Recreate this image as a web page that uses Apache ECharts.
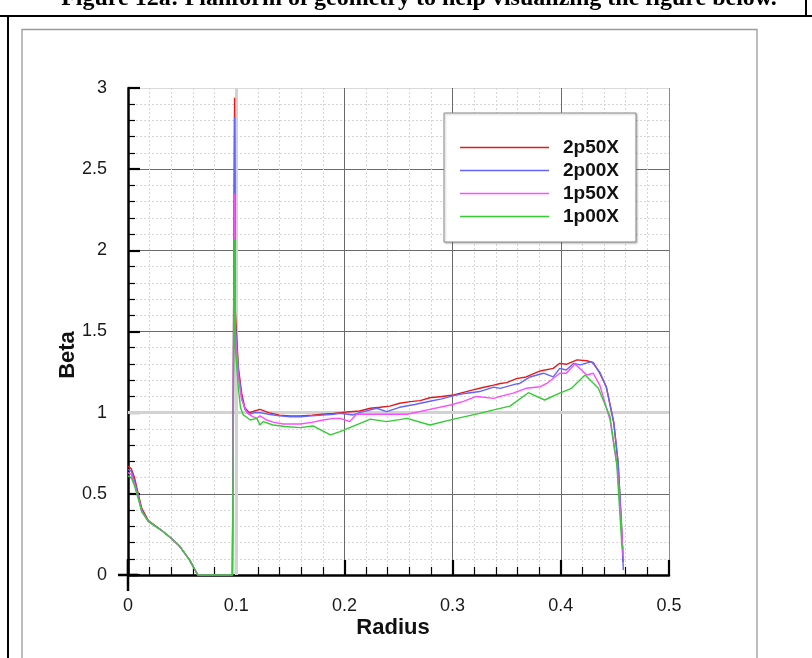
<!DOCTYPE html>
<html>
<head>
<meta charset="utf-8">
<script src="https://cdn.jsdelivr.net/npm/echarts@6/dist/echarts.min.js"></script>
<style>
  html, body { margin: 0; padding: 0; background: #fff; }
  #chart { width: 812px; height: 658px; }
</style>
</head>
<body>
<div id="chart"></div>
<script>
// Tick values for both axes
const radiusTicks = [0, 0.1, 0.2, 0.3, 0.4, 0.5];
const betaTicks = [0, 0.5, 1, 1.5, 2, 2.5, 3];

const seriesNames = ['2p50X', '2p00X', '1p50X', '1p00X'];

// Beta vs Radius, one [radius, beta] list per case
const beta2p50X = [
  [0, 0.67], [0.003, 0.655], [0.006, 0.6], [0.0095, 0.5], [0.0127, 0.41], [0.0188, 0.335],
  [0.03, 0.28], [0.04, 0.226], [0.048, 0.175], [0.057, 0.092], [0.0645, 0], [0.0965, 0],
  [0.0985, 2.94], [0.0992, 1.62], [0.102, 1.28], [0.105, 1.12], [0.108, 1.03], [0.112, 1.0],
  [0.117, 1.01], [0.122, 1.02], [0.13, 1.0], [0.14, 0.985], [0.15, 0.98], [0.159, 0.98],
  [0.17, 0.985], [0.18, 0.99], [0.19, 0.995], [0.196, 1.0], [0.205, 1.006], [0.214, 1.01],
  [0.224, 1.027], [0.233, 1.033], [0.242, 1.04], [0.251, 1.058], [0.261, 1.068], [0.27, 1.074],
  [0.279, 1.092], [0.29, 1.1], [0.301, 1.109], [0.31, 1.125], [0.319, 1.14], [0.328, 1.155],
  [0.338, 1.17], [0.344, 1.18], [0.35, 1.185], [0.359, 1.21], [0.368, 1.22], [0.375, 1.24],
  [0.381, 1.257], [0.393, 1.273], [0.399, 1.304], [0.405, 1.298], [0.415, 1.325], [0.424, 1.32],
  [0.43, 1.308], [0.436, 1.243], [0.442, 1.16], [0.449, 0.935], [0.453, 0.688], [0.456, 0.318],
  [0.4575, 0.08]
];
const beta2p00X = [
  [0, 0.65], [0.003, 0.64], [0.006, 0.58], [0.0095, 0.49], [0.0127, 0.40], [0.0188, 0.33],
  [0.03, 0.28], [0.04, 0.226], [0.048, 0.175], [0.057, 0.092], [0.0645, 0], [0.0965, 0],
  [0.0985, 2.82], [0.0992, 1.55], [0.102, 1.26], [0.105, 1.1], [0.108, 1.02], [0.112, 0.99],
  [0.117, 1.0], [0.122, 1.0], [0.13, 0.99], [0.14, 0.98], [0.15, 0.975], [0.159, 0.975],
  [0.17, 0.98], [0.18, 0.985], [0.19, 0.99], [0.196, 0.996], [0.208, 0.986], [0.214, 1.0],
  [0.23, 1.027], [0.239, 1.006], [0.251, 1.033], [0.265, 1.05], [0.279, 1.07], [0.29, 1.085],
  [0.301, 1.105], [0.313, 1.12], [0.325, 1.13], [0.338, 1.157], [0.344, 1.15], [0.359, 1.177],
  [0.362, 1.18], [0.3715, 1.22], [0.384, 1.243], [0.393, 1.22], [0.399, 1.273], [0.405, 1.263],
  [0.412, 1.304], [0.418, 1.294], [0.4285, 1.314], [0.436, 1.25], [0.442, 1.16], [0.449, 0.94],
  [0.453, 0.69], [0.456, 0.32], [0.4578, 0.03]
];
const beta1p50X = [
  [0, 0.63], [0.003, 0.62], [0.006, 0.56], [0.0095, 0.48], [0.0127, 0.39], [0.0188, 0.33],
  [0.03, 0.28], [0.04, 0.226], [0.048, 0.175], [0.057, 0.092], [0.0645, 0], [0.0965, 0],
  [0.0985, 2.35], [0.0992, 1.5], [0.102, 1.22], [0.105, 1.08], [0.11, 1.0], [0.114, 0.98],
  [0.119, 0.965], [0.122, 0.98], [0.128, 0.955], [0.135, 0.94], [0.1436, 0.93], [0.159, 0.93],
  [0.17, 0.94], [0.18, 0.955], [0.19, 0.965], [0.196, 0.965], [0.205, 0.945], [0.211, 0.99],
  [0.227, 0.99], [0.258, 0.99], [0.279, 1.02], [0.298, 1.047], [0.31, 1.07], [0.322, 1.1],
  [0.338, 1.088], [0.344, 1.1], [0.356, 1.12], [0.368, 1.15], [0.381, 1.16], [0.387, 1.18],
  [0.399, 1.243], [0.405, 1.243], [0.413, 1.3], [0.424, 1.232], [0.43, 1.243], [0.436, 1.17],
  [0.4455, 0.955], [0.4525, 0.645], [0.4578, 0.113]
];
const beta1p00X = [
  [0, 0.61], [0.003, 0.6], [0.006, 0.55], [0.0095, 0.47], [0.0127, 0.39], [0.0188, 0.33],
  [0.03, 0.28], [0.04, 0.226], [0.048, 0.175], [0.057, 0.092], [0.0645, 0], [0.0965, 0],
  [0.0985, 2.07], [0.0992, 1.4], [0.102, 1.15], [0.104, 1.03], [0.1066, 0.986], [0.11, 0.97],
  [0.113, 0.955], [0.119, 0.965], [0.122, 0.924], [0.125, 0.945], [0.134, 0.924], [0.145, 0.915],
  [0.159, 0.908], [0.171, 0.918], [0.187, 0.863], [0.196, 0.883], [0.205, 0.908], [0.224, 0.96],
  [0.239, 0.945], [0.258, 0.965], [0.279, 0.924], [0.301, 0.96], [0.325, 0.996], [0.338, 1.017],
  [0.353, 1.04], [0.37, 1.123], [0.385, 1.078], [0.399, 1.12], [0.41, 1.15], [0.4224, 1.232],
  [0.4347, 1.15], [0.4455, 0.975], [0.4517, 0.688], [0.4563, 0.195], [0.4575, 0.16]
];

const seriesData = [beta2p50X, beta2p00X, beta1p50X, beta1p00X];
const seriesColors = ['#e31a1c', '#6464ff', '#ff4cff', '#33cc33'];

const sans = '"Liberation Sans", Arial, sans-serif';
const majorGrid = '#6a6a6a';

const chart = echarts.init(document.getElementById('chart'), null, { renderer: 'canvas' });

const lineSeries = seriesNames.map((name, i) => ({
  name: name,
  type: 'line',
  data: seriesData[i],
  symbol: 'none',
  color: seriesColors[i],
  lineStyle: { color: seriesColors[i], width: 1.4 },
  z: 2,
  animation: false
}));

chart.setOption({
  animation: false,
  backgroundColor: '#ffffff',
  grid: { left: 128, right: 143, top: 88, bottom: 83 },
  legend: {
    data: seriesNames,
    orient: 'vertical',
    left: 444,
    top: 113,
    padding: [25, 17, 16, 16],
    icon: 'rect',
    itemWidth: 89,
    itemHeight: 1.6,
    itemGap: 4,
    backgroundColor: '#ffffff',
    borderColor: '#8c8c8c',
    borderWidth: 1,
    shadowColor: 'rgba(0,0,0,0.25)',
    shadowBlur: 2,
    shadowOffsetX: 1,
    shadowOffsetY: 1,
    textStyle: { fontFamily: sans, fontSize: 19, fontWeight: 'bold', color: '#111', padding: [0, 0, 0, 9] }
  },
  xAxis: {
    type: 'value',
    min: 0,
    max: 0.5,
    interval: 0.1,
    offset: 16,
    name: 'Radius',
    nameLocation: 'middle',
    nameGap: 26,
    nameMoveOverlap: false,
    nameTextStyle: { fontFamily: sans, fontSize: 22, fontWeight: 'bold', color: '#111', padding: [0, 11, 0, 0] },
    axisLine: { show: true, lineStyle: { color: '#000', width: 2.5 }, symbol: ['rect', 'none'], symbolSize: [2.5, 20] },
    axisTick: { show: true, inside: true, length: 15, lineStyle: { color: '#000', width: 2.2 } },
    minorTick: { show: true, splitNumber: 5, length: 8, lineStyle: { color: '#000', width: 1.2 } },
    axisLabel: { fontFamily: sans, fontSize: 18, color: '#1a1a1a', margin: 6 },
    splitLine: { show: true, lineStyle: { color: [majorGrid, '#cfcfcf', majorGrid, majorGrid, majorGrid, '#8a8a8a'], width: 1 } },
    minorSplitLine: { show: true, lineStyle: { color: '#d6d6d6', width: 1, type: [2, 2] } }
  },
  yAxis: {
    type: 'value',
    min: 0,
    max: 3,
    interval: 0.5,
    offset: 10,
    name: 'Beta',
    nameLocation: 'middle',
    nameGap: 39,
    nameMoveOverlap: false,
    nameTextStyle: { fontFamily: sans, fontSize: 22, fontWeight: 'bold', color: '#111', padding: [0, 47, 0, 0] },
    axisLine: { show: true, lineStyle: { color: '#000', width: 2.5 }, symbol: ['rect', 'none'], symbolSize: [2.5, 32] },
    axisTick: { show: true, inside: true, length: 12, lineStyle: { color: '#000', width: 2.2 } },
    minorTick: { show: true, splitNumber: 5, length: 7, lineStyle: { color: '#000', width: 1.2 } },
    axisLabel: { fontFamily: sans, fontSize: 18, color: '#1a1a1a', margin: 11 },
    splitLine: { show: true, lineStyle: { color: [majorGrid, majorGrid, '#cfcfcf', majorGrid, majorGrid, majorGrid, '#dadada'], width: 1 } },
    minorSplitLine: { show: true, lineStyle: { color: '#d6d6d6', width: 1, type: [2, 2] } }
  },
  graphic: [
    // caption cut off by the page top
    { type: 'text', x: 419, y: -13, style: { text: 'Figure 12a: Planform of geometry to help visualizing the figure below.', font: 'bold 24px "Liberation Serif", "Times New Roman", serif', fill: '#000', align: 'center' }, z: 10 },
    // table rules
    { type: 'line', shape: { x1: 0, y1: 16, x2: 812, y2: 16 }, style: { stroke: '#000', lineWidth: 2 } },
    { type: 'line', shape: { x1: 8, y1: 16, x2: 8, y2: 658 }, style: { stroke: '#000', lineWidth: 2 } },
    { type: 'line', shape: { x1: 806, y1: 0, x2: 806, y2: 16 }, style: { stroke: '#000', lineWidth: 2 } },
    // frame of the embedded plot image
    { type: 'polyline', shape: { points: [[22, 658], [22, 29.5], [757, 29.5], [757, 658]] }, style: { stroke: '#9a9a9a', lineWidth: 1.3, fill: null } }
  ],
  series: [
    {
      name: 'reference lines',
      type: 'line',
      data: [],
      z: 1,
      markLine: {
        silent: true,
        z: 1,
        symbol: 'none',
        label: { show: false },
        lineStyle: { color: '#d2d2d2', width: 3, type: 'solid' },
        data: [{ xAxis: 0.1 }, { yAxis: 1 }]
      }
    }
  ].concat(lineSeries)
});
</script>
</body>
</html>
